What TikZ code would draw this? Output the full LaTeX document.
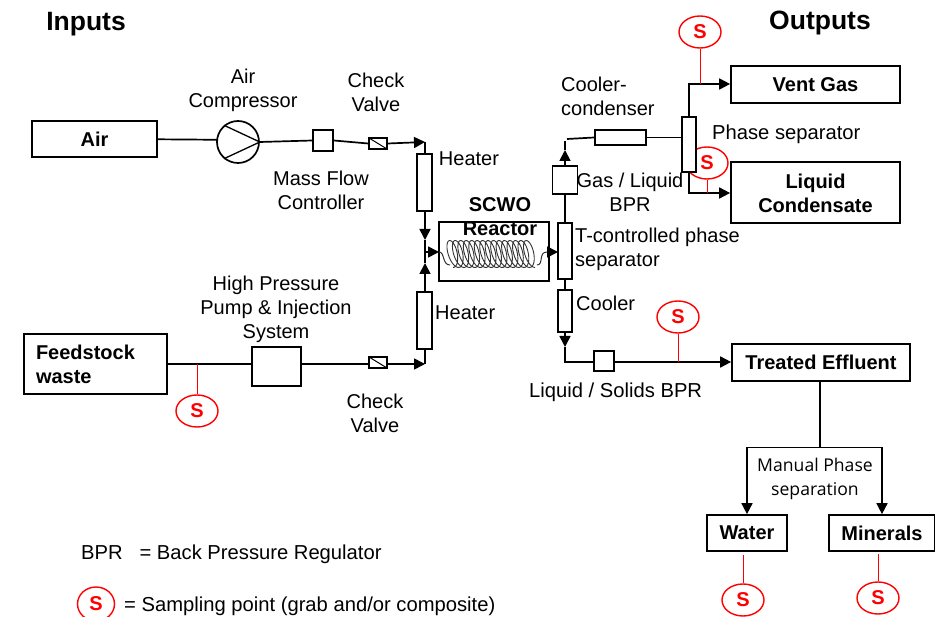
\documentclass[tikz,border=0pt]{standalone}
\usepackage{fontspec}
\setmainfont{Liberation Sans}
\newfontfamily\manualfont{Open Sans}
\usetikzlibrary{arrows.meta,calc,shapes.geometric}
\newcommand{\mybox}[7][]{% style, name, x0,y0,x1,y1, text
  \node[boxy,#1,minimum width={(#5)-(#3)},minimum height={(#6)-(#4)}] (#2) at ({((#3)+(#5))/2},{((#4)+(#6))/2}) {#7};}
\tikzset{
  every node/.style={font=\fontsize{20}{24}\selectfont},
  boxy/.style={draw=black,line width=1.7pt,fill=white,inner sep=0pt,align=center,font=\fontsize{20}{24}\selectfont\bfseries},
  lbl/.style={inner sep=0pt,align=center},
  lblleft/.style={inner sep=0pt,align=left,anchor=west},
  pipe/.style={draw=black,line width=1.7pt},
  flow/.style={pipe,-{Triangle[length=11pt,width=11pt]}},
  valve/.style={path picture={\draw[line width=1pt] (path picture bounding box.north west)--(path picture bounding box.south east);}},
  samp/.style={draw=red,line width=1.4pt,fill=white,ellipse,minimum width=42pt,minimum height=32pt,inner sep=0pt,text=red,font=\fontsize{20}{24}\selectfont\bfseries},
  stem/.style={draw=red,line width=1pt},
}
\begin{document}
\begin{tikzpicture}[x=1pt,y=-1pt]
\useasboundingbox (0,0) rectangle (935,617);
\fill[white] (0,0) rectangle (935,617);

% titles
\node[lbl,font=\fontsize{26.5}{30}\selectfont\bfseries] (tin) at (86,24) {Inputs};
\node[lbl,font=\fontsize{26.5}{30}\selectfont\bfseries] (tout) at (820,23) {Outputs};

% labels
\node[lbl] (lcomp) at (243,90) {Air\\Compressor};
\node[lbl] (lcv1) at (376,92) {Check\\Valve};
\node[lbl] (lh1) at (469,159) {Heater};
\node[lbl] (lmfc) at (321,190) {Mass Flow\\Controller};
\node[lbl,font=\fontsize{20}{24}\selectfont\bfseries] (lreact) at (500,217) {SCWO\\Reactor};
\node[lblleft] (lcc) at (561,96) {Cooler-\\condenser};
\node[lblleft,font=\fontsize{20.2}{24}\selectfont] (lps) at (712,134.5) {Phase separator};
\node[lbl] (lgl) at (630,192) {Gas / Liquid\\BPR};
\node[lblleft] (ltc) at (575,249) {T-controlled phase\\separator};
\node[lblleft] (lcool) at (576,303.5) {Cooler};
\node[lblleft] (lh2) at (435,313) {Heater};
\node[lbl] (lpump) at (276,309) {High Pressure\\Pump \& Injection\\System};
\node[lbl] (lcv2) at (375,413) {Check\\Valve};
\node[lblleft,font=\fontsize{20.2}{24}\selectfont] (lls) at (529,392) {Liquid / Solids BPR};
\node[lblleft,font=\fontsize{20.2}{24}\selectfont] (lbpr) at (81,554) {BPR\ \ \ = Back Pressure Regulator};
\node[lblleft,font=\fontsize{20.2}{24}\selectfont] (lsp) at (124,606) {= Sampling point (grab and/or composite)};
\node[lbl,font=\manualfont\fontsize{17.6}{24.5}\selectfont] (lman) at (815,479) {Manual Phase\\separation};

% sampling points
\node[samp] (s1) at (700,32) {S};
\node[samp] (s2) at (707,163) {S};
\node[samp] (s3) at (678,317) {S};
\node[samp] (s4) at (197,411) {S};
\node[samp] (s5) at (743,600) {S};
\node[samp] (s6) at (878,598) {S};
\node[samp,minimum width=37pt,minimum height=34pt] (s7) at (96,604) {S};

% main boxes
\mybox{air}{32}{121}{157}{157}{Air}
\mybox[align=left,text width=119pt]{feed}{24}{334}{167}{394}{Feedstock\\waste}
\mybox{vent}{731}{66}{900}{103}{Vent Gas}
\mybox{cond}{731}{162}{900}{223}{\rule{0pt}{16.5pt}Liquid\\Condensate}
\mybox{eff}{732}{344}{910}{381}{Treated Effluent}
\mybox{water}{707}{515}{787}{551}{Water}
\mybox{min}{829}{515}{935}{551}{Minerals}

% coordinates
\coordinate (jtop) at (425,142);
\coordinate (jbot) at (425,364);
\coordinate (jmid) at (425,252);
\coordinate (jin) at (439,252);
\coordinate (jd) at (425,240);
\coordinate (ju) at (425,263);
\coordinate (coilL) at (450,265);
\coordinate (coilR) at (537,265);
\coordinate (sepin) at (558,252);
\coordinate (gasar) at (565,150);
\coordinate (gasup) at (565,141);
\coordinate (gastop) at (567,139);
\coordinate (ventc) at (689,84);
\coordinate (condc) at (689,193);
\coordinate (lowc) at (565,362);
\coordinate (coolar) at (565,347);
\coordinate (efb) at (820,447.5);
\coordinate (wtop) at (747,447.5);
\coordinate (mtop) at (882,447.5);
\coordinate (airin) at (222,139.8);
\coordinate (airout) at (160,139.3);

% connector behind the compressor
\draw[pipe] (air.east|-airout) -- (airin);

% equipment
\node[draw=black,line width=1.7pt,circle,minimum size=42pt,inner sep=0pt,fill=white] (comp) at (238,142) {};
\draw[line width=1.3pt] (comp.130)--(comp.east)--(comp.-130);
\mybox{mfc}{313}{130}{333}{151}{}
\mybox[valve]{cv1}{369}{138}{387}{149}{}
\mybox[valve]{cv2}{369}{357}{387}{368}{}
\mybox{pump}{252}{347}{301}{386}{}
\mybox{h1}{417}{154}{432}{211}{}
\mybox{h2}{417}{292}{432}{349}{}
\mybox{tsep}{558}{223}{572}{279}{}
\mybox{cool}{558}{290}{572}{332}{}
\mybox{bpr}{552.5}{166}{577.5}{194}{}
\mybox{cc}{595}{130}{646}{145}{}
\mybox{psep}{682}{117}{696}{172}{}
\mybox{lbox}{594}{351}{614}{371}{}

% reactor
\node[draw=black,line width=1.5pt,minimum width=110pt,minimum height=59pt,inner sep=0pt] (react) at (494,251.5) {};
\draw[draw=black!80,line width=.9pt,smooth] plot[domain=0:5400,samples=420] ({450+82*(\x/5400)+6*sin(\x)+3*cos(\x)},{254-13.5*cos(\x+180)});

% connectors
\draw[pipe] (comp.east) -- (mfc.west);
\draw[pipe] (mfc.east) -- (cv1.west);
\draw[flow] (cv1.east) -- (jtop);
\draw[pipe] (jtop) -- (h1.north-|jtop);
\draw[flow] (h1.south-|jtop) -- (jd);
\draw[pipe] (jd) -- (ju);
\draw[pipe] (feed.east|-jbot) -- (pump.west|-jbot);
\draw[pipe] (pump.east|-jbot) -- (cv2.west|-jbot);
\draw[flow] (cv2.east|-jbot) -- (jbot);
\draw[pipe] (jbot) -- (h2.south-|jbot);
\draw[flow] (h2.north-|jbot) -- (ju);
\draw[flow] (jmid) -- (jin);
\draw[draw=black!80,line width=1pt] (jin) .. controls (445,252) and (442,265) .. (coilL);
\draw[draw=black!80,line width=1pt] (coilR) .. controls (544,265) and (538,252) .. (547,252);
\draw[flow] (547,252) -- (sepin);
\draw[pipe] (tsep.south) -- (cool.north);
\draw[pipe] (tsep.north) -- (bpr.south);
\draw[flow] (bpr.north) -- (gasar);
\draw[pipe] (gasar) -- (gasup);
\draw[pipe] (gastop) -- (cc.west);
\draw[pipe] (cc.east) -- (psep.west|-cc.east);
\draw[flow] (psep.north) -- (ventc) -- (vent.west|-ventc);
\draw[flow] (psep.south) -- (condc) -- (cond.west|-condc);
\draw[flow] (cool.south) -- (coolar);
\draw[pipe] (coolar) -- (lowc) -- (lbox.west|-lowc);
\draw[flow] (lbox.east|-lowc) -- (eff.west|-lowc);
\draw[pipe] (eff.south-|efb) -- (efb);
\draw[flow] (wtop) -- (water.north-|wtop);
\draw[flow] (mtop) -- (min.north-|mtop);
\draw[pipe] (wtop) -- (mtop);

% sampling stems
\draw[stem] (s1.south) -- (s1.south|-ventc);
\draw[stem] (s2.south) -- (s2.south|-condc);
\draw[stem] (s3.south) -- (s3.south|-lowc);
\draw[stem] (s4.north) -- (s4.north|-jbot);
\draw[stem] (s5.north) -- ([yshift=-3pt]s5.north|-water.south);
\draw[stem] (s6.north) -- ([yshift=-2pt]s6.north|-min.south);
\end{tikzpicture}
\end{document}
